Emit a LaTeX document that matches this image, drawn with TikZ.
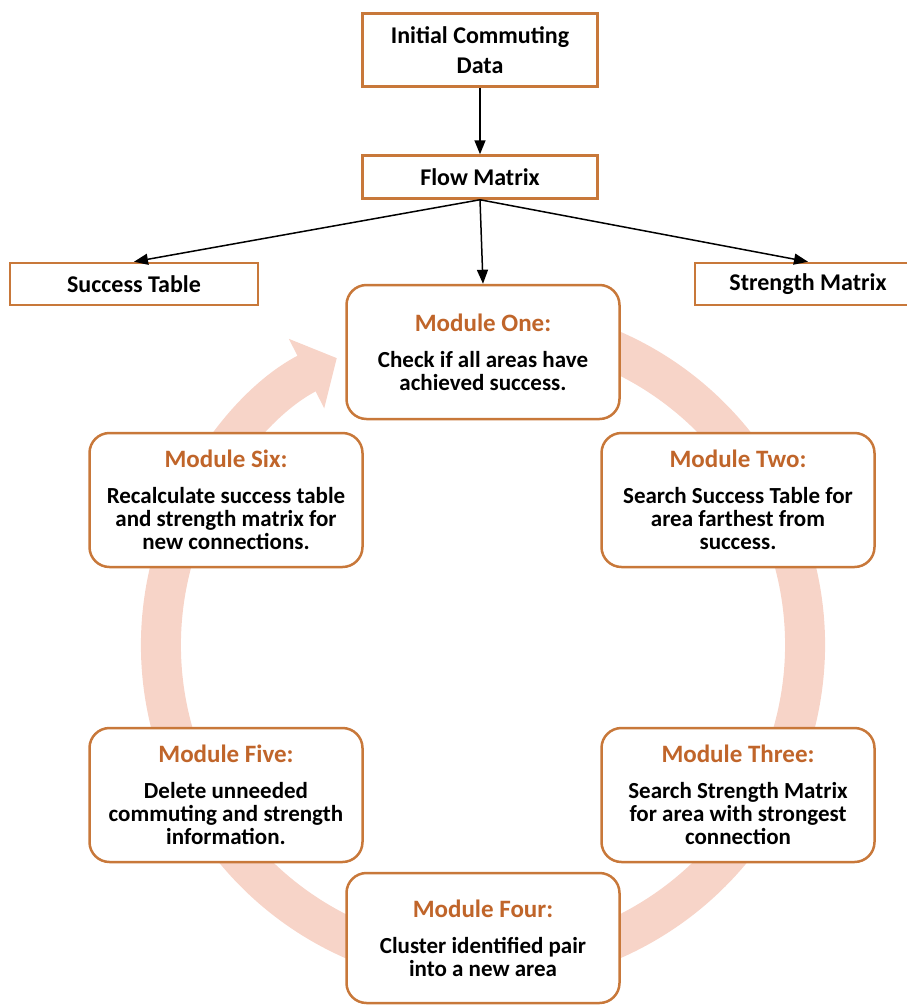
\documentclass[tikz,border=0pt]{standalone}
\usepackage{fontspec}
\setmainfont{Carlito}
\usetikzlibrary{arrows.meta,positioning}
\definecolor{boxorange}{RGB}{200,120,58}
\definecolor{titleorange}{RGB}{192,101,42}
\definecolor{ringpink}{RGB}{247,212,200}
\tikzset{every node/.style={align=center}, >={Triangle[width=11pt,length=14pt]},
  databox/.style={draw=boxorange, line width=2.5pt, fill=white, inner sep=0pt,
    font=\bfseries\fontsize{24}{30}\selectfont},
  modbox/.style={draw=boxorange, line width=2.5pt, rounded corners=20pt, fill=white,
    minimum width=273pt, minimum height=134pt, inner sep=0pt,
    font=\bfseries\fontsize{23}{23}\selectfont},
  flowarrow/.style={->, line width=1.5pt},
  ring/.style={draw=ringpink, line width=40pt, -{Triangle[width=76pt,length=34pt]}}}
\newcommand{\modtitle}[1]{{\color{titleorange}\fontsize{25}{23}\selectfont#1}\\[13pt]}

\begin{document}
\begin{tikzpicture}[x=1pt, y=1pt]
    \useasboundingbox (0,0) rectangle (907,-1005);
    % cycle arrow behind the modules
    \coordinate (hub) at (483,-645);
    \draw[ring] ([shift={(75:322)}]hub) arc[start angle=75, end angle=-243, radius=322];

    \node [databox, minimum width=235pt, minimum height=73pt] (init) at (480,-50) {Initial Commuting\\Data};
    \node [databox, minimum width=235pt, minimum height=43pt] (flow) [below of = init, node distance=127pt] {Flow Matrix};
    \node [databox, minimum width=248pt, minimum height=42pt] (succ) at (134,-284) {Success Table};
    \node [databox, minimum width=226pt, minimum height=42pt] (stren) at (808,-284) {Strength Matrix};

    \node [modbox] (m1) at (483,-352) {\modtitle{Module One:}Check if all areas have\\achieved success.};
    \node [modbox] (m2) at (738,-500) {\modtitle{Module Two:}Search Success Table for\\area farthest from\\success.};
    \node [modbox] (m3) at (738,-795) {\modtitle{Module Three:}Search Strength Matrix\\for area with strongest\\connection};
    \node [modbox, minimum height=130pt] (m4) at (483,-938) {\modtitle{Module Four:}Cluster identified pair\\into a new area};
    \node [modbox] (m5) at (226,-795) {\modtitle{Module Five:}Delete unneeded\\commuting and strength\\information.};
    \node [modbox] (m6) at (226,-500) {\modtitle{Module Six:}Recalculate success table\\and strength matrix for\\new connections.};

    \draw[flowarrow] (init) -- (flow);
    \draw[flowarrow] (flow.south) -- (succ.north);
    \draw[flowarrow] (flow.south) -- (m1.north);
    \draw[flowarrow] (flow.south) -- (stren.north);
\end{tikzpicture}
\end{document}
